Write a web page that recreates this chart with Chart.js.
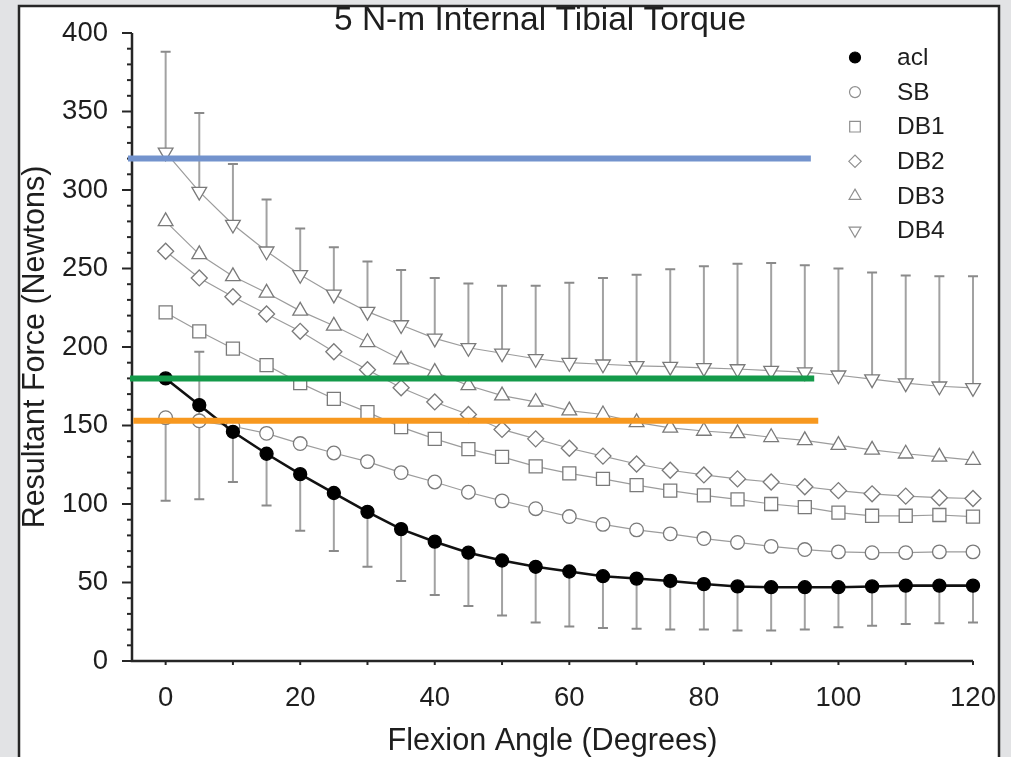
<!DOCTYPE html>
<html>
<head>
<meta charset="utf-8">
<script src="https://cdn.jsdelivr.net/npm/chart.js@4.4.1/dist/chart.umd.min.js"></script>
<style>
  html, body { margin: 0; padding: 0; background: #e2e3e5; overflow: hidden; }
  canvas { display: block; }
</style>
</head>
<body>
<canvas id="torque" width="1011" height="757"></canvas>
<script>
// Flexion angles (degrees)
const angles = [0, 5, 10, 15, 20, 25, 30, 35, 40, 45, 50, 55, 60,
                65, 70, 75, 80, 85, 90, 95, 100, 105, 110, 115, 120];

// Resultant force (N) per graft condition
const acl = [180, 163, 146, 132, 119, 107, 95, 84, 76, 69, 64, 60, 57,
             54, 52.5, 51, 49, 47.5, 47, 47, 47, 47.5, 48, 48, 48];
const sb  = [155, 153, 149.5, 145, 138.5, 132.5, 127, 120, 114, 107.5, 102, 97, 92,
             87, 83.5, 81, 78, 75.5, 73, 71, 69.5, 69, 69, 69.5, 69.5];
const db1 = [222, 210, 199, 188.5, 177, 167, 158.5, 149, 141.5, 135, 130, 124, 119.5,
             116, 112, 108.5, 105.5, 103, 100, 98, 94.5, 92.5, 92.5, 93, 92];
const db2 = [261, 244, 232, 221, 210, 197, 185.5, 174, 165, 157, 147.5, 141.5, 135.5,
             130.5, 125.5, 121.5, 118.5, 116, 114, 111, 108.5, 106.5, 105, 104, 103.5];
const db3 = [280, 259, 245, 234.5, 223, 213.5, 203, 192, 184, 175.5, 169, 165, 159.5,
             157, 152, 148.5, 146.5, 145, 142.5, 140.5, 137.5, 134.5, 132, 130, 128];
const db4 = [324, 299, 278, 261, 246, 233.5, 222.5, 214, 205.5, 199.5, 196, 192.5, 190,
             189, 188, 187.5, 186.7, 186, 185, 184, 182, 179.5, 177, 175, 174];

// Error bar extents: lower group (ends of each bar) and upper group (top of DB4 bars)
const lowerBarTop    = [155, 197, 146, 132, 119, 107, 95, 84, 76, 69, 64, 60, 57,
                        54, 52.5, 51, 49, 47.5, 47, 47, 47, 47.5, 48, 48, 48];
const lowerBarBottom = [102, 103, 114, 99, 83, 70, 60, 51, 42, 35, 29, 24.5, 22,
                        21, 20.5, 20, 20, 19.5, 19.5, 20, 21.5, 22.5, 23.5, 24, 24.5];
const db4BarTop      = [388, 349, 316.5, 294, 275.5, 263.5, 254.5, 249, 244, 240.5, 239, 239, 241,
                        244, 246, 249.5, 251.5, 253, 253.5, 252, 250, 247.5, 245.5, 245, 245];

// Highlight lines: level and horizontal extent (degrees)
const refLevels = [320, 180, 153];
const refStart  = [-5.6, -5.3, -4.8];
const refEnd    = [95.9, 96.4, 97.0];
const refColors = ['#7393cd', '#149a4a', '#f7981f'];

// Axis ticks
const xTickLabels = [0, 20, 40, 60, 80, 100, 120];
const yTickLabels = [0, 50, 100, 150, 200, 250, 300, 350, 400];
const xMinorStep = 10;
const yMinorStep = 10;

const FONT = "'Liberation Sans', Arial, Helvetica, sans-serif";
Chart.defaults.font.family = FONT;
Chart.defaults.color = '#1e1e1e';

const pts = ys => angles.map((a, i) => ({ x: a, y: ys[i] }));

const series = [
  { label: 'acl', ys: acl, style: 'circle',   rot: 0,   r: 6.5, key: 5.5, fill: '#000', stroke: '#000', line: '#111', lw: 2.6, order: 1 },
  { label: 'SB',  ys: sb,  style: 'circle',   rot: 0,   r: 6.8, key: 5.5, fill: '#fff', stroke: '#7a7a7a', line: '#9c9c9c', lw: 1.2, order: 2 },
  { label: 'DB1', ys: db1, style: 'rect',     rot: 0,   r: 9.2, key: 7.5, fill: '#fff', stroke: '#7a7a7a', line: '#9c9c9c', lw: 1.2, order: 3 },
  { label: 'DB2', ys: db2, style: 'rectRot',  rot: 0,   r: 8,   key: 6.2, fill: '#fff', stroke: '#7a7a7a', line: '#9c9c9c', lw: 1.2, order: 4 },
  { label: 'DB3', ys: db3, style: 'triangle', rot: 0,   r: 8.5, key: 6.8, fill: '#fff', stroke: '#7a7a7a', line: '#9c9c9c', lw: 1.2, order: 5 },
  { label: 'DB4', ys: db4, style: 'triangle', rot: 180, r: 8.5, key: 6.8, fill: '#fff', stroke: '#7a7a7a', line: '#9c9c9c', lw: 1.2, order: 6 }
];

const datasets = [];
refLevels.forEach((lvl, i) => {
  datasets.push({
    label: 'ref' + i,
    data: [{ x: refStart[i], y: lvl }, { x: refEnd[i], y: lvl }],
    borderColor: refColors[i],
    borderWidth: 6,
    pointRadius: 0,
    clip: false,
    order: 0
  });
});
series.forEach(s => {
  datasets.push({
    label: s.label,
    data: pts(s.ys),
    borderColor: s.line,
    borderWidth: s.lw,
    pointStyle: s.style,
    pointRotation: s.rot,
    pointRadius: s.r,
    pointBackgroundColor: s.fill,
    pointBorderColor: s.stroke,
    pointBorderWidth: 1.3,
    tension: 0,
    clip: false,
    order: s.order
  });
});

// White framed panel on a grey page
const panel = {
  id: 'panel',
  beforeDraw(chart) {
    const { ctx, width, height } = chart;
    ctx.save();
    ctx.fillStyle = '#e2e3e5';
    ctx.fillRect(0, 0, width, height);
    ctx.fillStyle = '#ffffff';
    ctx.fillRect(19, 6, 980, height);
    ctx.strokeStyle = '#262626';
    ctx.lineWidth = 2.5;
    ctx.strokeRect(19, 6, 980, height + 20);
    ctx.restore();
  }
};

// Vertical error bars with end caps
const errorBars = {
  id: 'errorBars',
  beforeDatasetsDraw(chart) {
    const { ctx, scales: { x, y } } = chart;
    const cap = 5;
    ctx.save();
    ctx.lineWidth = 2;
    const bar = (xv, a, b) => {
      const px = x.getPixelForValue(xv);
      const p1 = y.getPixelForValue(a), p2 = y.getPixelForValue(b);
      ctx.strokeStyle = '#a2a2a2';
      ctx.beginPath();
      ctx.moveTo(px, p1); ctx.lineTo(px, p2);
      ctx.stroke();
      ctx.strokeStyle = '#8a8a8a';
      ctx.beginPath();
      ctx.moveTo(px - cap, p1); ctx.lineTo(px + cap, p1);
      ctx.moveTo(px - cap, p2); ctx.lineTo(px + cap, p2);
      ctx.stroke();
    };
    angles.forEach((a, i) => {
      bar(a, lowerBarBottom[i], lowerBarTop[i]);
      bar(a, db4[i], db4BarTop[i]);
    });
    ctx.restore();
  }
};

// Axis lines with major and minor tick marks
const axesFrame = {
  id: 'axesFrame',
  beforeDatasetsDraw(chart) {
    const { ctx, chartArea: ca, scales: { x, y } } = chart;
    ctx.save();
    ctx.strokeStyle = '#262626';
    ctx.lineWidth = 2;
    for (let v = y.min; v <= y.max; v += yMinorStep) {
      const py = y.getPixelForValue(v);
      const len = yTickLabels.includes(v) ? 10 : 5;
      ctx.beginPath(); ctx.moveTo(ca.left - len, py); ctx.lineTo(ca.left, py); ctx.stroke();
    }
    for (let v = 0; v <= x.max; v += xMinorStep) {
      const px = x.getPixelForValue(v);
      ctx.beginPath(); ctx.moveTo(px, ca.bottom); ctx.lineTo(px, ca.bottom + 4); ctx.stroke();
    }
    ctx.lineWidth = 2.5;
    ctx.beginPath();
    ctx.moveTo(ca.left, ca.top);
    ctx.lineTo(ca.left, ca.bottom);
    ctx.lineTo(ca.right, ca.bottom);
    ctx.stroke();
    ctx.restore();
  }
};

// Chart heading and symbol key
const headingAndKey = {
  id: 'headingAndKey',
  afterDraw(chart) {
    const { ctx } = chart;
    ctx.save();
    ctx.fillStyle = '#1e1e1e';
    ctx.font = `33.5px ${FONT}`;
    ctx.textAlign = 'center';
    ctx.textBaseline = 'middle';
    ctx.fillText('5 N-m Internal Tibial Torque', 540, 21);

    const symX = 855, txtX = 897, y0 = 57.5, dy = 34.6;
    ctx.font = `24.5px ${FONT}`;
    ctx.textAlign = 'left';
    series.forEach((s, i) => {
      const cy = y0 + i * dy;
      ctx.fillStyle = s.fill;
      ctx.strokeStyle = s.label === 'acl' ? '#000' : '#8f8f8f';
      ctx.lineWidth = 1.2;
      Chart.helpers.drawPoint(ctx, {
        pointStyle: s.style,
        rotation: s.rot,
        radius: s.key,
        borderWidth: 1.2
      }, symX, cy);
      ctx.fillStyle = '#1e1e1e';
      ctx.fillText(s.label, txtX, cy + 1);
    });
    ctx.restore();
  }
};

// Fixed scale box sizes; the plot frame comes from layout padding alone
const fixBox = size => s => {
  if (s.isHorizontal()) s.height = size; else s.width = size;
  s.paddingTop = s.paddingBottom = s.paddingLeft = s.paddingRight = 0;
};

new Chart(document.getElementById('torque'), {
  type: 'line',
  data: { datasets },
  options: {
    responsive: false,
    animation: false,
    events: [],
    layout: { autoPadding: false, padding: { left: 0, top: 33, right: 38, bottom: 0 } },
    plugins: {
      legend: { display: false },
      title: { display: false },
      tooltip: { enabled: false }
    },
    scales: {
      x: {
        type: 'linear',
        min: -5,
        max: 120,
        grid: { display: false, drawTicks: false },
        border: { display: false },
        afterBuildTicks: s => { s.ticks = xTickLabels.map(v => ({ value: v })); },
        afterFit: fixBox(96),
        ticks: { autoSkip: false, maxRotation: 0, padding: 20.5, font: { size: 27.5 }, color: '#1e1e1e' },
        title: {
          display: true,
          text: 'Flexion Angle (Degrees)',
          font: { size: 30.6, lineHeight: 1 },
          color: '#1e1e1e',
          padding: { top: 0, bottom: 0 }
        }
      },
      y: {
        type: 'linear',
        min: 0,
        max: 400,
        grid: { display: false, drawTicks: false },
        border: { display: false },
        afterBuildTicks: s => { s.ticks = yTickLabels.map(v => ({ value: v })); },
        afterFit: fixBox(132),
        ticks: { autoSkip: false, padding: 24, font: { size: 27.5 }, color: '#1e1e1e' },
        title: {
          display: true,
          text: 'Resultant Force (Newtons)',
          font: { size: 30.5, lineHeight: 1 },
          color: '#1e1e1e',
          padding: { top: 20, bottom: 0 }
        }
      }
    }
  },
  plugins: [panel, errorBars, axesFrame, headingAndKey]
});
</script>
</body>
</html>
